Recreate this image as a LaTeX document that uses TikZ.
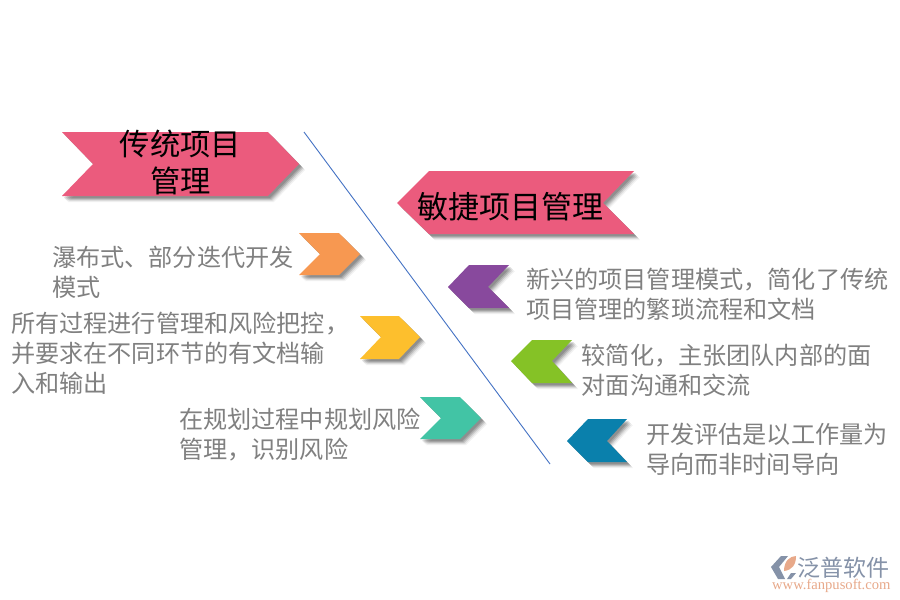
\documentclass[tikz,border=0pt]{standalone}
\usepackage{fontspec}
\setmainfont{Noto Sans CJK SC}
\newfontfamily\logoserif{Liberation Serif}
\definecolor{cpink}{HTML}{EB5B7D}
\definecolor{corange}{HTML}{F79851}
\definecolor{cyellow}{HTML}{FDBF2D}
\definecolor{cteal}{HTML}{42C4A5}
\definecolor{cpurple}{HTML}{88499D}
\definecolor{cgreen}{HTML}{85C226}
\definecolor{cblue}{HTML}{0A80AC}
\definecolor{cline}{HTML}{4472C4}
\definecolor{ctext}{HTML}{808080}
\definecolor{clogo}{HTML}{8592A8}
\definecolor{clogoo}{HTML}{E8A98A}
\tikzset{
  body/.style={anchor=base west,align=left,inner sep=0pt,text=ctext,font=\fontsize{24.15}{30}\selectfont},
  head/.style={anchor=base,align=center,inner sep=0pt,text=black,font=\fontsize{30.3}{37}\selectfont},
}
% shadowed chevron given as a closed polygon
\newcommand{\chevshape}[2]{%
  \foreach \d/\o in {6/0.05,5/0.08,4/0.12,3/0.14,2/0.14}{
    \fill[black,opacity=\o,shift={(\d,\d)}] #2 -- cycle;
  }
  \fill[#1] #2 -- cycle;
}
\begin{document}
\begin{tikzpicture}[x=1pt,y=-1pt]
\useasboundingbox (0,0) rectangle (900,600);
\fill[white] (0,0) rectangle (900,600);
% divider
\coordinate (lineA) at (304,132);
\coordinate (lineB) at (550,464);
\draw[cline,line width=0.9pt] (lineA) -- (lineB);
% chevrons
\chevshape{cpink}{(62,132) -- (268,132) -- (299,164) -- (268,196) -- (62,196) -- (93,164)}
\chevshape{cpink}{(397,203) -- (429,171) -- (634,171) -- (603,203) -- (634,234) -- (429,234)}
\chevshape{corange}{(299,233) -- (339,233) -- (360,254) -- (339,275) -- (299,275) -- (320,254)}
\chevshape{cyellow}{(360,316) -- (399,316) -- (420,337) -- (399,359) -- (360,359) -- (381,337)}
\chevshape{cteal}{(420,397) -- (460,397) -- (481,418) -- (460,439) -- (420,439) -- (441,418)}
\chevshape{cpurple}{(448,287) -- (469,265) -- (509,265) -- (488,287) -- (509,308) -- (469,308)}
\chevshape{cgreen}{(511,361) -- (532,340) -- (572,340) -- (552,361) -- (572,383) -- (532,383)}
\chevshape{cblue}{(567,441) -- (588,419) -- (627,419) -- (607,441) -- (627,462) -- (588,462)}
% headings
\node[head] (title1) at (180.5,192) {传统项目\\管理};
\node[head,font=\fontsize{31}{38}\selectfont] (title2) at (510,218) {敏捷项目管理};
% body texts
\node[body] (t1) at (52,296) {瀑布式、部分迭代开发\\模式};
\node[body] (t2) at (11,392) {所有过程进行管理和风险把控，\\并要求在不同环节的有文档输\\入和输出};
\node[body] (t3) at (179,458) {在规划过程中规划风险\\管理，识别风险};
\node[body] (t4) at (526,318) {新兴的项目管理模式，简化了传统\\项目管理的繁琐流程和文档};
\node[body] (t5) at (581.5,394) {较简化，主张团队内部的面\\对面沟通和交流};
\node[body] (t6) at (646,473) {开发评估是以工作量为\\导向而非时间导向};
% logo
\fill[clogo] (781,556) -- (771,567) -- (778,579) -- (785,579) -- (779,567) -- (788,556) -- cycle;
\fill[clogoo] (784,571) .. controls (784,561) and (790,556) .. (796,556) .. controls (796,565) and (792,570) .. (784,571) -- cycle;
\fill[clogo] (787,579) -- (791,573) -- (796,573) -- (791,579) -- cycle;
\node[anchor=base west,inner sep=0pt,text=clogo,font=\fontsize{23}{24}\selectfont] (logoA) at (797,576) {泛普软件};
\node[anchor=base west,inner sep=0pt,text=clogoo,font=\logoserif\fontsize{14.6}{16}\selectfont] (logoB) at (772,589) {www.fanpusoft.com};
\end{tikzpicture}
\end{document}
